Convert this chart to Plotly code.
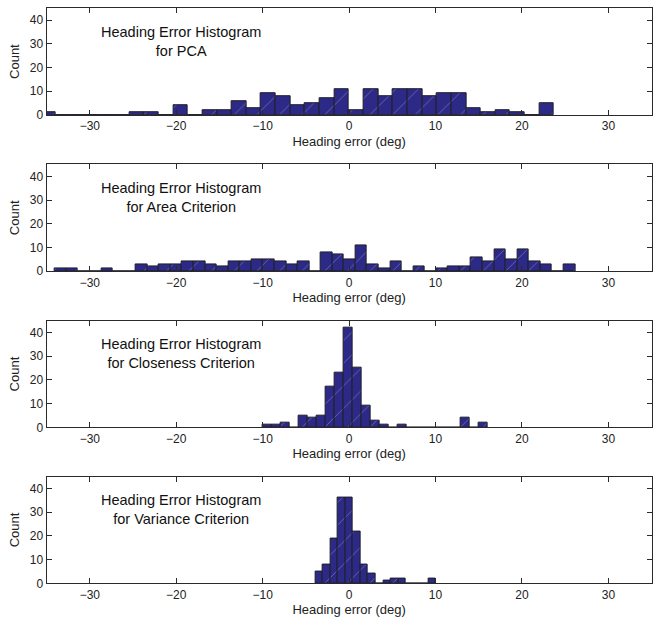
import plotly.graph_objects as go

# ---- data ----
titles = [
    "Heading Error Histogram<br>for PCA",
    "Heading Error Histogram<br>for Area Criterion",
    "Heading Error Histogram<br>for Closeness Criterion",
    "Heading Error Histogram<br>for Variance Criterion",
]
# first bin edge (deg) and bin width (deg) of each histogram
pca_start, pca_width = -35.6, 1.6945
pca_counts = [1, 0, 0, 0, 0, 0, 1, 1, 0, 4, 0, 2, 2, 6, 3, 9, 8, 4, 5, 7,
              11, 2, 11, 8, 11, 11, 8, 9, 9, 3, 1, 2, 1, 0, 5]
area_start, area_width = -34.04, 1.3376
area_counts = [1, 1, 0, 0, 1, 0, 0, 3, 2, 3, 3, 4, 4, 3, 2, 4, 4, 5, 5, 4,
               3, 4, 0, 8, 7, 5, 11, 3, 1, 4, 0, 2, 0, 1, 2, 2, 6, 4, 9, 5,
               9, 4, 3, 0, 3]
close_start, close_width = -10.0, 1.04
close_counts = [1, 1, 2, 0, 5, 4, 5, 17, 23, 42, 25, 9, 3, 1, 0, 1, 0, 0, 0,
                0, 0, 0, 4, 0, 2]
var_start, var_width = -3.91, 0.872
var_counts = [5, 8, 19, 36, 36, 22, 8, 4, 0, 1, 2, 2, 0, 0, 0, 2]

x_ticks = [-30, -20, -10, 0, 10, 20, 30]
y_ticks = [0, 10, 20, 30, 40]
x_range = [-35, 35]
y_range = [0, 45]

series = [
    (pca_start, pca_width, pca_counts),
    (area_start, area_width, area_counts),
    (close_start, close_width, close_counts),
    (var_start, var_width, var_counts),
]

W, H = 653, 624
# pixel geometry of the plot boxes
x_left, x_right = 46.7, 652.6
boxes = [(8.3, 116.3), (166.3, 274.3), (324.3, 432.3), (482.0, 590.0)]

FONT = "Liberation Sans, Arial, Helvetica, sans-serif"
AX = "#2a2a2a"

fig = go.Figure()
layout = dict(
    width=W, height=H,
    margin=dict(l=0, r=0, t=0, b=0),
    paper_bgcolor="white", plot_bgcolor="white",
    showlegend=False,
    font=dict(family=FONT, size=12, color="#222"),
    bargap=0,
    annotations=[],
)

for i, (start, width, counts) in enumerate(series):
    n = i + 1
    xs = [start + (k + 0.5) * width for k in range(len(counts))]
    xa = "x" if n == 1 else f"x{n}"
    ya = "y" if n == 1 else f"y{n}"
    fig.add_trace(go.Bar(
        x=xs, y=counts, width=[width] * len(counts),
        xaxis=xa, yaxis=ya,
        marker=dict(
            color="#2c2a86",
            line=dict(color="#1e1e2a", width=1),
            pattern=dict(shape="/", fgcolor="#9d9ad8", size=16,
                         solidity=0.06, fillmode="overlay"),
        ),
        hoverinfo="x+y",
    ))
    top, bot = boxes[i]
    kx = "xaxis" if n == 1 else f"xaxis{n}"
    ky = "yaxis" if n == 1 else f"yaxis{n}"
    layout[kx] = dict(
        domain=[x_left / W, x_right / W], anchor=ya,
        range=x_range, tickvals=x_ticks, ticks="inside", ticklen=5,
        tickcolor=AX, showline=True, linecolor=AX, linewidth=1,
        mirror="ticks", showgrid=False, zeroline=False,
        tickfont=dict(size=12, color="#222"),
        title=dict(text="Heading error (deg)", font=dict(size=13, color="#222"),
                   standoff=4),
    )
    layout[ky] = dict(
        domain=[(H - bot) / H, (H - top) / H], anchor=xa,
        range=y_range, tickvals=y_ticks, ticks="inside", ticklen=5,
        tickcolor=AX, showline=True, linecolor=AX, linewidth=1,
        mirror="ticks", showgrid=False, zeroline=False,
        tickfont=dict(size=12, color="#222"),
        title=dict(text="Count", font=dict(size=13, color="#222"), standoff=7),
    )
    layout["annotations"].append(dict(
        text=titles[i], x=-19.4, y=31, xref=xa, yref=ya,
        showarrow=False, font=dict(size=14.5, color="#111"),
        align="center", xanchor="center", yanchor="middle",
    ))

fig.update_layout(**layout)
fig.write_html("out.html")
